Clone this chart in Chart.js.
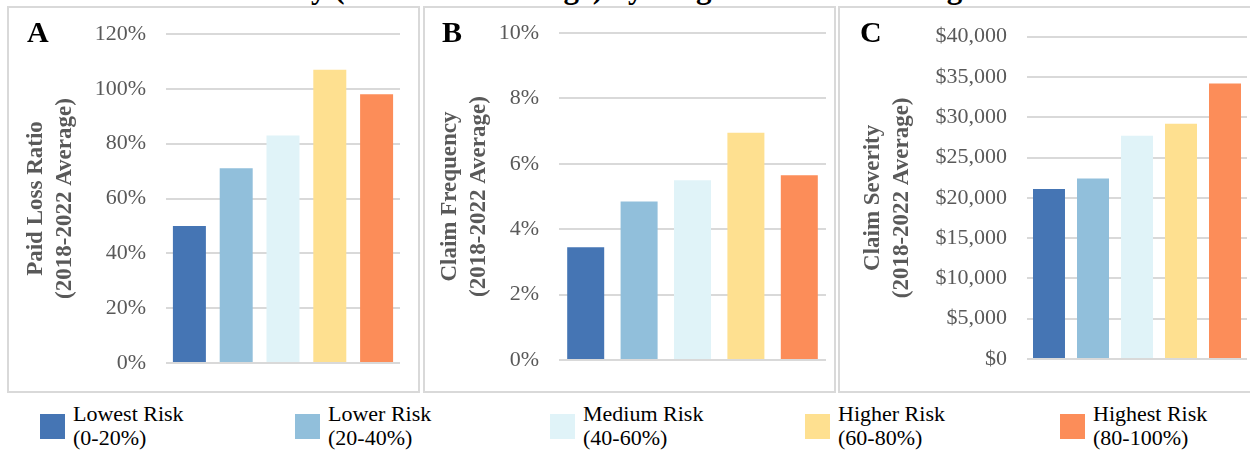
<!DOCTYPE html>
<html>
<head>
<meta charset="utf-8">
<script src="https://cdn.jsdelivr.net/npm/chart.js@4.4.1/dist/chart.umd.min.js"></script>
<style>
  html, body { margin: 0; padding: 0; background: #fff; }
  body { width: 1250px; height: 453px; position: relative; overflow: hidden;
         font-family: 'Times New Roman', 'Liberation Serif', serif; }
  .title { position: absolute; left: 218px; top: -59px; font-weight: bold; font-size: 31px;
           line-height: 31px; white-space: nowrap; color: #000; }
  .panel { position: absolute; top: 6px; height: 383px; border: 2px solid #d9d9d9; }
  .panel canvas { position: absolute; left: 0; top: 0; }
  .letter { position: absolute; top: 14px; font-weight: bold; font-size: 30px; color: #000; line-height: 36px; }
  .legend-item { position: absolute; top: 402px; }
  .legend-item .swatch { position: absolute; left: 0; top: 12px; width: 25px; height: 25px; }
  .legend-item .text { position: absolute; left: 33px; top: 0; font-size: 22px; line-height: 24px;
                       white-space: nowrap; color: #000; }
</style>
</head>
<body>
<div class="title">Paid Loss Ratio, Claim Frequency, and Claim<br>Severity (2018-2022 Average) by Neighborhood Ranking</div>

<div class="panel" id="panelA" style="left:7px;width:409px;"><canvas id="chartA" width="409" height="383"></canvas></div>
<div class="panel" id="panelB" style="left:423px;width:409px;"><canvas id="chartB" width="409" height="383"></canvas></div>
<div class="panel" id="panelC" style="left:838px;width:410px;"><canvas id="chartC" width="410" height="383"></canvas></div>

<div class="letter" style="left:27px;">A</div>
<div class="letter" style="left:442px;">B</div>
<div class="letter" style="left:860px;">C</div>

<div id="legend"></div>

<script>
// Risk groups shared by all three panels
const riskLabels = ['Lowest Risk', 'Lower Risk', 'Medium Risk', 'Higher Risk', 'Highest Risk'];
const riskRanges = ['(0-20%)', '(20-40%)', '(40-60%)', '(60-80%)', '(80-100%)'];
const riskColors = ['#4575b4', '#91bfdb', '#e0f3f8', '#fee090', '#fc8d59'];

// Panel A: paid loss ratio, percent
const paidLossRatio = [50, 71, 83, 107, 98];
// Panel B: claim frequency, percent
const claimFrequency = [3.45, 4.85, 5.5, 6.95, 5.65];
// Panel C: claim severity, dollars
const claimSeverity = [21100, 22400, 27700, 29200, 34200];

// Axis titles
const titleA = ['Paid Loss Ratio', '(2018-2022 Average)'];
const titleB = ['Claim Frequency', '(2018-2022 Average)'];
const titleC = ['Claim Severity', '(2018-2022 Average)'];

const fontFamily = "'Times New Roman', 'Liberation Serif', serif";
const tickGray = '#595959';

function makeChart(id, values, cfg) {
  return new Chart(document.getElementById(id), {
    type: 'bar',
    data: {
      labels: riskLabels,
      datasets: [{
        data: values,
        backgroundColor: riskColors,
        borderWidth: 0,
        barPercentage: cfg.bar,
        categoryPercentage: 1
      }]
    },
    options: {
      responsive: false,
      animation: false,
      layout: { padding: { top: cfg.top, bottom: cfg.bottom, right: cfg.right, left: 0 } },
      plugins: { legend: { display: false }, tooltip: { enabled: false } },
      scales: {
        x: { display: false },
        y: {
          min: 0,
          max: cfg.max,
          ticks: {
            stepSize: cfg.step,
            color: tickGray,
            font: { family: fontFamily, size: 22 },
            padding: 20,
            callback: cfg.fmt
          },
          grid: { color: '#d9d9d9', lineWidth: 2, drawTicks: false },
          border: { display: false },
          title: {
            display: true,
            text: cfg.title,
            color: tickGray,
            font: { family: fontFamily, size: 23, weight: 'bold', lineHeight: 1.25 },
            padding: { top: cfg.tpad, bottom: 0 }
          },
          afterFit(scale) {
            // fixed axis width; the label gap only applies horizontally
            scale.width = cfg.axisWidth;
            scale.paddingTop = 0;
            scale.paddingBottom = 0;
          }
        }
      }
    }
  });
}

makeChart('chartA', paidLossRatio, {
  max: 120, step: 20, fmt: v => v + '%', title: titleA,
  bar: 0.705, top: 26, bottom: 28, right: 18, axisWidth: 157, tpad: 12.6
});
makeChart('chartB', claimFrequency, {
  max: 10, step: 2, fmt: v => v + '%', title: titleB,
  bar: 0.693, top: 25, bottom: 31, right: 8, axisWidth: 134, tpad: 10.6
});
makeChart('chartC', claimSeverity, {
  max: 40000, step: 5000, fmt: v => '$' + v.toLocaleString('en-US'), title: titleC,
  bar: 0.727, top: 28.7, bottom: 32, right: 3, axisWidth: 187, tpad: 18.6
});

// Shared legend below the panels
const legend = document.getElementById('legend');
riskLabels.forEach((label, i) => {
  const item = document.createElement('div');
  item.className = 'legend-item';
  item.style.left = (40 + 255 * i) + 'px';
  const sw = document.createElement('div');
  sw.className = 'swatch';
  sw.style.background = riskColors[i];
  const tx = document.createElement('div');
  tx.className = 'text';
  tx.innerHTML = label + '<br>' + riskRanges[i];
  item.appendChild(sw);
  item.appendChild(tx);
  legend.appendChild(item);
});
</script>
</body>
</html>
